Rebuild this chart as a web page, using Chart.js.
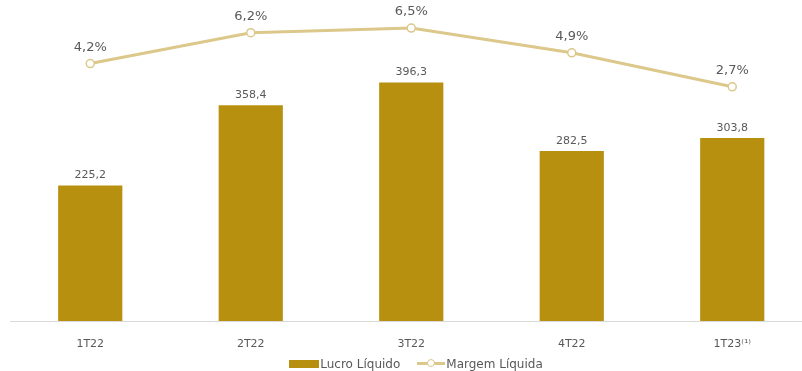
<!DOCTYPE html>
<html>
<head>
<meta charset="utf-8">
<script src="https://cdn.jsdelivr.net/npm/chart.js@4"></script>
<style>
  body { margin: 0; background: #fff; overflow: hidden; width: 802px; height: 371px; }
  #wrap { position: relative; width: 818px; height: 371px; }
  #grafico { display: block; }
  #legenda { position: absolute; left: 0; top: 356px; width: 832px; text-align: center;
    font: 12px "DejaVu Sans", Verdana, sans-serif; color: #595959; }
  #legenda span { display: inline-block; vertical-align: middle; }
  .caixa { width: 30px; height: 8px; background: #B8900F; margin-right: 1px; }
  .linha { position: relative; width: 28px; height: 9px; margin: 0 1px 0 17px; }
  .linha:before { content: ""; position: absolute; left: 0; right: 0; top: 3px; height: 3px; background: #DCC88A; }
  .linha:after { content: ""; position: absolute; left: 10px; top: 0; width: 6px; height: 6px; border: 1.5px solid #DCC88A; border-radius: 50%; background: #fff; }
</style>
</head>
<body>
<div id="wrap">
  <canvas id="grafico" width="818" height="371"></canvas>
  <div id="legenda"><span class="caixa"></span><span>Lucro Líquido</span><span class="linha"></span><span>Margem Líquida</span></div>
</div>
<script>
// trimestres, lucro (R$ mi) e margem (%)
var trimestres = ['1T22', '2T22', '3T22', '4T22', '1T23⁽¹⁾'];
var lucroLiquido = [225.2, 358.4, 396.3, 282.5, 303.8];
var margemLiquida = [4.2, 6.2, 6.5, 4.9, 2.7];

function fmt(v, casas) {
  return v.toFixed(casas).replace('.', ',');
}

// escreve os valores em cima das barras e dos pontos
const rotulos = {
  id: 'rotulos',
  afterDatasetsDraw(chart) {
    const ctx = chart.ctx;
    ctx.save();
    ctx.textAlign = 'center';
    ctx.textBaseline = 'alphabetic';
    ctx.fillStyle = '#595959';
    chart.getDatasetMeta(1).data.forEach(function (bar, i) {
      ctx.font = '11px "DejaVu Sans", Verdana, sans-serif';
      ctx.fillText(fmt(lucroLiquido[i], 1), bar.x, bar.y - 7);
    });
    chart.getDatasetMeta(0).data.forEach(function (pt, i) {
      ctx.font = '13px "DejaVu Sans", Verdana, sans-serif';
      ctx.fillText(fmt(margemLiquida[i], 1) + '%', pt.x, pt.y - 13);
    });
    ctx.restore();
  }
};

const ctx = document.getElementById('grafico');
new Chart(ctx, {
  data: {
    labels: trimestres,
    datasets: [{
      type: 'line',
      label: 'Margem Líquida',
      data: margemLiquida,
      yAxisID: 'y2',
      borderColor: '#DCC88A',
      borderWidth: 3,
      pointRadius: 4,
      pointBorderWidth: 1.5,
      pointBackgroundColor: '#fff',
      pointBorderColor: '#DCC88A',
      order: 0
    }, {
      type: 'bar',
      label: 'Lucro Líquido',
      data: lucroLiquido,
      yAxisID: 'y',
      backgroundColor: '#B8900F',
      barPercentage: 0.4,
      categoryPercentage: 1,
      order: 1
    }]
  },
  options: {
    responsive: false,
    animation: false,
    layout: { padding: { left: 10, right: 0, top: 0, bottom: 0 } },
    plugins: { legend: { display: false }, tooltip: { enabled: false } },
    scales: {
      x: {
        grid: { display: false },
        border: { color: '#D9D9D9', width: 1 },
        ticks: { color: '#595959', padding: 9, font: { family: '"DejaVu Sans", Verdana, sans-serif', size: 11 } },
        afterFit(scale) { scale.height = 50; }
      },
      y: { display: false, min: 0, max: 524 },
      y2: { display: false, min: -12.46, max: 7.96 }
    }
  },
  plugins: [rotulos]
});
</script>
</body>
</html>
